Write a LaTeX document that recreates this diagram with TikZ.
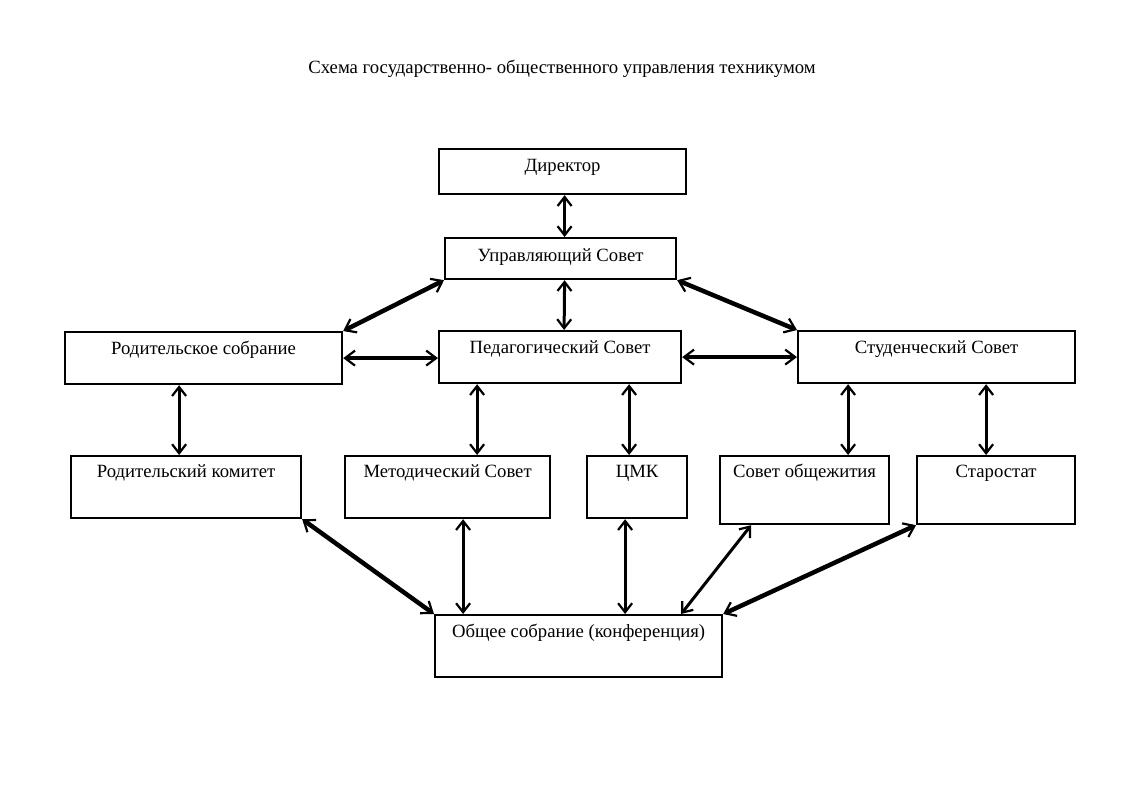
\documentclass[tikz,border=0pt]{standalone}
\usepackage{fontspec}
\setmainfont{Liberation Serif}
\usetikzlibrary{arrows.meta}
\begin{document}
\begin{tikzpicture}[x=1pt,y=-1pt,
  box/.style={draw, line width=2.2pt, rectangle, anchor=north west, inner sep=0pt},
  thin/.style={line width=3pt, {Straight Barb[length=9pt,width=14pt,line width=2.2pt]}-{Straight Barb[length=9pt,width=14pt,line width=2.2pt]}},
  thick/.style={line width=4.5pt, {Straight Barb[length=10pt,width=15pt,line width=2.2pt]}-{Straight Barb[length=10pt,width=15pt,line width=2.2pt]}},
  lab/.style={font=\fontsize{18.7}{22}\selectfont}]
\useasboundingbox[fill=white] (0,0) rectangle (1123,793);
\node[lab] (title) at (562,69) {Схема государственно- общественного управления техникумом};
\newcommand{\bx}[7]{\node[box, minimum width=#4, minimum height=#5, label={[lab,anchor=center,yshift=-#6pt]north:#7}] (#1) at (#2,#3) {};}
\bx{dir}{438}{148}{247}{45}{19}{Директор}
\bx{us}{444}{237}{231}{41}{20}{Управляющий Совет}
\bx{rs}{64}{331}{277}{52}{19}{Родительское собрание}
\bx{ped}{438}{330}{242}{52}{19}{Педагогический Совет}
\bx{st}{797}{330}{277}{52}{19}{Студенческий Совет}
\bx{rk}{70}{455}{230}{62}{18}{Родительский комитет}
\bx{ms}{344}{455}{205}{62}{18}{Методический Совет}
\bx{cmk}{586}{455}{100}{62}{18}{ЦМК}
\bx{so}{719}{455}{169}{68}{18}{Совет общежития}
\bx{sta}{916}{455}{158}{68}{18}{Старостат}
\bx{os}{434}{614}{287}{62}{19}{Общее собрание (конференция)}
\draw[thin] ([xshift=2pt]dir.south) -- ([xshift=4pt]us.north);
\draw[thin] ([xshift=4pt]us.south) -- ([xshift=4pt]ped.north);
\draw[thick] (us.south west) -- (rs.north east);
\draw[thick] (us.south east) -- (st.north west);
\draw[thick] (rs.east) -- (rs.east -| ped.west);
\draw[thick] (ped.east) -- (ped.east -| st.west);
\draw[thin] ([xshift=-24.5pt]rs.south) -- ([xshift=-7pt]rk.north);
\draw[thin] ([xshift=-83pt]ped.south) -- ([xshift=29.5pt]ms.north);
\draw[thin] ([xshift=69pt]ped.south) -- ([xshift=-8pt]cmk.north);
\draw[thin] ([xshift=-88.5pt]st.south) -- ([xshift=43.5pt]so.north);
\draw[thin] ([xshift=49.5pt]st.south) -- ([xshift=-10pt]sta.north);
\draw[thick] (rk.south east) -- (os.north west);
\draw[thin] ([xshift=15.5pt]ms.south) -- ([xshift=-115.5pt]os.north);
\draw[thin] ([xshift=-12pt]cmk.south) -- ([xshift=46.5pt]os.north);
\draw[thin] ([xshift=-53.5pt]so.south) -- ([xshift=102.5pt]os.north);
\draw[thick] (sta.south west) -- (os.north east);
\end{tikzpicture}
\end{document}
